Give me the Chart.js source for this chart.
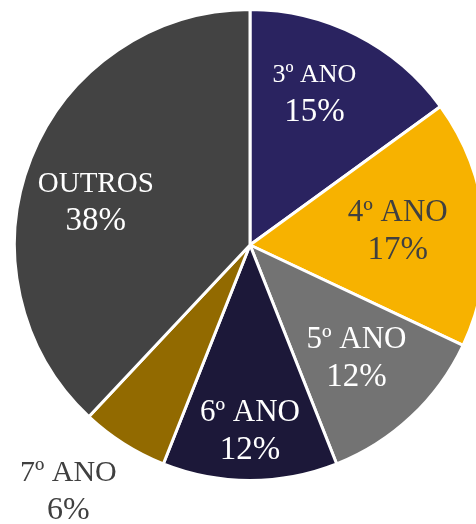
<!DOCTYPE html>
<html>
<head>
<meta charset="utf-8">
<script src="https://cdn.jsdelivr.net/npm/chart.js@4"></script>
<style>
    html, body { margin: 0; padding: 0; background: #fff; overflow: hidden; }
    #wrap { position: absolute; left: 0; top: 0; width: 500px; height: 524px; }
</style>
</head>
<body>
<div id="wrap"><canvas id="pieChart"></canvas></div>
<script>
// data
const categories = ['3º ANO', '4º ANO', '5º ANO', '6º ANO', '7º ANO', 'OUTROS'];
const shares = [15, 17, 12, 12, 6, 38];
const sliceColors = ['#2a2360', '#f7b200', '#737373', '#1c1839', '#926a00', '#434343'];

// label styling: colour, font sizes, radial factor and angle tweak (deg)
const labelColors = ['#ffffff', '#404040', '#ffffff', '#ffffff', '#404040', '#ffffff'];
const nameSizes = [26, 31, 31, 31, 30, 29];
const pctSizes = [33, 33, 33, 33, 32, 33];
const radialPos = [0.70, 0.63, 0.66, 0.79, 1.30, 0.68];
const angleTweak = [-4, 0, 0, 0, 4, -6];

const sliceLabels = {
    id: 'sliceLabels',
    afterDatasetsDraw(chart) {
        const ctx = chart.ctx;
        const arcs = chart.getDatasetMeta(0).data;
        ctx.save();
        ctx.textAlign = 'center';
        ctx.textBaseline = 'middle';
        arcs.forEach((arc, i) => {
            const p = arc.getProps(['x', 'y', 'startAngle', 'endAngle', 'outerRadius'], true);
            const mid = (p.startAngle + p.endAngle) / 2 + angleTweak[i] * Math.PI / 180;
            const r = p.outerRadius * radialPos[i];
            const cx = p.x + Math.cos(mid) * r;
            const cy = p.y + Math.sin(mid) * r;
            ctx.fillStyle = labelColors[i];
            ctx.font = nameSizes[i] + 'px "Liberation Serif", serif';
            ctx.fillText(categories[i], cx, cy - 18);
            ctx.font = pctSizes[i] + 'px "Liberation Serif", serif';
            ctx.fillText(shares[i] + '%', cx, cy + 19);
        });
        ctx.restore();
    }
};

function initPieChart() {
    const ctx = document.getElementById('pieChart').getContext('2d');
    new Chart(ctx, {
        type: 'pie',
        data: {
            labels: categories,
            datasets: [{
                data: shares,
                backgroundColor: sliceColors,
                borderColor: '#ffffff',
                borderWidth: 3
            }]
        },
        options: {
            responsive: true,
            maintainAspectRatio: false,
            animation: false,
            devicePixelRatio: 1,
            layout: {
                padding: { left: 13, right: 13, top: 8, bottom: 42 }
            },
            plugins: {
                legend: { display: false },
                tooltip: { enabled: false }
            }
        },
        plugins: [sliceLabels]
    });
}

document.addEventListener('DOMContentLoaded', () => {
    initPieChart();
});
</script>
</body>
</html>
